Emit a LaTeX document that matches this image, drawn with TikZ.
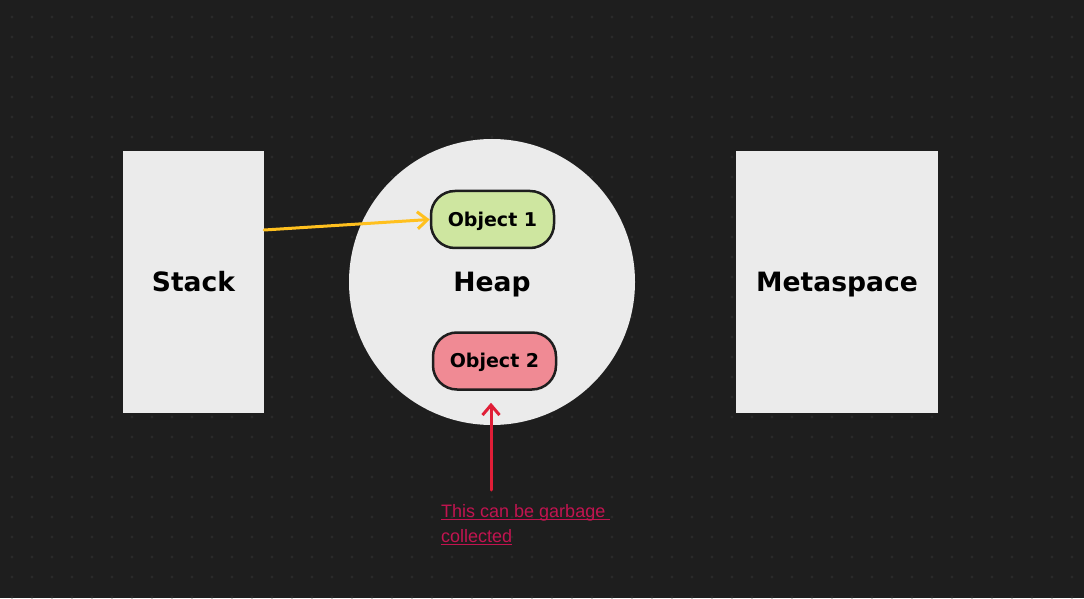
\documentclass[tikz,border=0pt]{standalone}
\usepackage{fontspec}
\setmainfont{DejaVu Sans}
\newfontfamily\notefont{Liberation Sans}
\usetikzlibrary{arrows.meta}
\definecolor{canvas}{RGB}{30,30,30}
\definecolor{dotgrey}{RGB}{42,42,42}
\definecolor{paper}{RGB}{235,235,235}
\definecolor{objgreen}{RGB}{206,230,160}
\definecolor{objred}{RGB}{240,138,148}
\definecolor{inkdark}{RGB}{30,30,30}
\definecolor{refyellow}{RGB}{255,192,30}
\definecolor{gcred}{RGB}{224,30,55}
\definecolor{notered}{RGB}{194,20,80}
\newsavebox{\ulinebox}
\newcommand{\ulinetext}[1]{\sbox{\ulinebox}{#1}\rlap{\rule[-3.2pt]{\wd\ulinebox}{1.5pt}}\usebox{\ulinebox}}

\begin{document}
\begin{tikzpicture}[x=1pt, y=-1pt,
  area/.style={fill=paper, inner sep=0pt, font=\bfseries\fontsize{26.6}{30}\selectfont,
    text height=19.4pt, text depth=0pt},
  obj/.style={draw=inkdark, line width=2.5pt, rounded corners=24pt, minimum width=123pt,
    minimum height=57pt, inner sep=0pt, font=\bfseries\fontsize{19}{22}\selectfont,
    text height=13.9pt, text depth=0pt},
  link/.style={line width=3pt, line cap=round, line join=round,
    -{Straight Barb[length=10pt, width=17pt]}}]
  \fill[canvas] (0,0) rectangle (1084,598);
  \foreach \i in {0,...,53} {
    \foreach \j in {0,...,29} {
      \fill[dotgrey] (12+20*\i, 17+20*\j) circle (1.6);
    }
  }
  \node[area, minimum width=141pt, minimum height=262pt] (stack) at (193.5,282) {Stack};
  \node[area, circle, minimum size=286pt] (heap) at (492,282) {Heap};
  \node[area, minimum width=202pt, minimum height=262pt] (meta) at (837,282) {Metaspace};
  \node[obj, fill=objgreen] (obj1) at (492.5,219.5) {Object 1};
  \node[obj, fill=objred] (obj2) at (494.5,361) {Object 2};
  \node[anchor=north west, inner sep=0pt, align=left, text=notered,
    font=\notefont\fontsize{18}{25}\selectfont] (gcnote) at (441,504)
    {\ulinetext{This can be garbage\ }\\\ulinetext{collected}};
  \coordinate (gcfoot) at (491,490);
  \draw[link, refyellow] ([yshift=52pt]stack.east) -- (obj1.west);
  \draw[link, gcred, shorten >=12pt] (gcfoot) -- (gcfoot |- obj2.south);
\end{tikzpicture}
\end{document}
